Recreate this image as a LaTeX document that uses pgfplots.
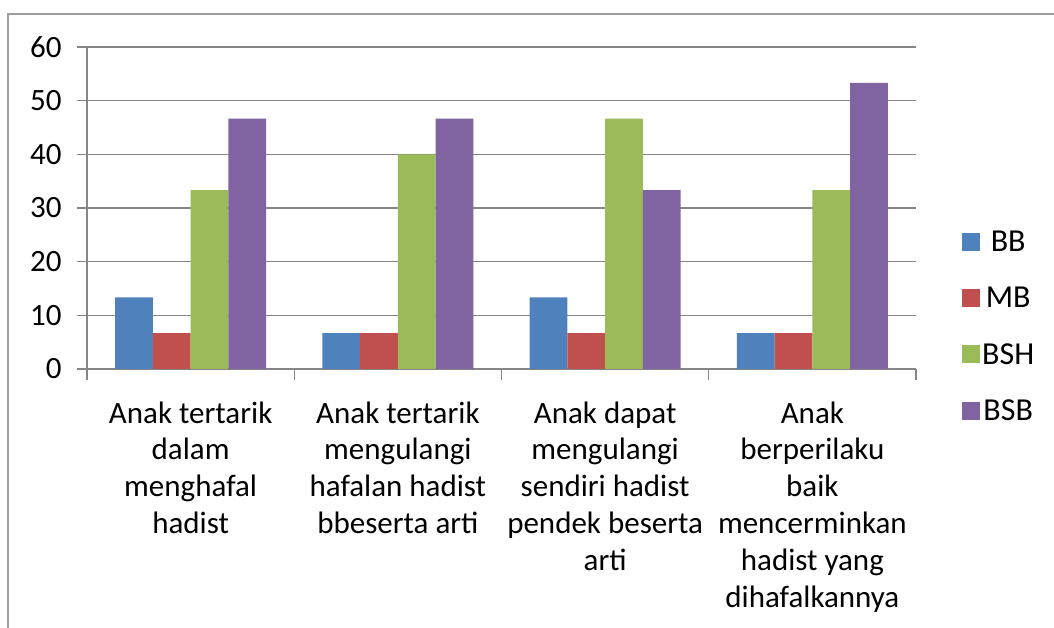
\documentclass[border=0pt]{standalone}
\usepackage{fontspec}
\setmainfont{Carlito}
\usepackage{pgfplots}
\usetikzlibrary{calc}
\pgfplotsset{compat=1.18}
\definecolor{cBB}{HTML}{4F81BD}
\definecolor{cMB}{HTML}{C0504D}
\definecolor{cBSH}{HTML}{9BBB59}
\definecolor{cBSB}{HTML}{8064A2}
\definecolor{gridc}{HTML}{868686}
\begin{document}
\begin{tikzpicture}[x=1pt,y=1pt]
\begin{axis}[
  name=ax,
  scale only axis, width=829pt, height=322pt,
  xmin=-0.5, xmax=3.5, ymin=0, ymax=60,
  ybar=0pt, bar width=37.7pt,
  axis x line*=bottom, axis y line*=left,
  axis line style={gridc, line width=1.2pt},
  xtick={0,1,2,3},
  xticklabels={{Anak tertarik\\dalam\\menghafal\\hadist},
    {Anak tertarik\\mengulangi\\hafalan hadist\\bbeserta arti},
    {Anak dapat\\mengulangi\\sendiri hadist\\pendek beserta\\arti},
    {Anak\\berperilaku\\baik\\mencerminkan\\hadist yang\\dihafalkannya}},
  major x tick style={draw=none},
  minor xtick={-0.5,0.5,1.5,2.5,3.5},
  minor x tick style={gridc, line width=1.2pt},
  minor tick length=11pt,
  tick align=outside,
  ytick={0,10,...,60},
  major tick length=10pt,
  y tick style={gridc, line width=1.2pt},
  ymajorgrids, grid style={gridc, line width=1.2pt},
  /pgf/number format/assume math mode=true,
  yticklabel style={font=\fontsize{31}{34}\selectfont, xshift=-12pt},
  xticklabel style={font=\fontsize{31}{36.9}\selectfont, align=center, yshift=-19pt},
  legend style={at={(1.0555,0.132)}, anchor=west, draw=none, fill=none,
    font=\fontsize{32}{34}\selectfont, row sep=30pt, inner sep=0pt,
    /tikz/every even column/.append style={column sep=7pt}},
  legend image code/.code={\fill[#1] (0pt,-9pt) rectangle (18pt,9pt);},
  clip=false,
]
\addplot[fill=cBB, draw=none] coordinates {(0,13.33) (1,6.67) (2,13.33) (3,6.67)};
\addplot[fill=cMB, draw=none] coordinates {(0,6.67) (1,6.67) (2,6.67) (3,6.67)};
\addplot[fill=cBSH, draw=none] coordinates {(0,33.33) (1,40) (2,46.67) (3,33.33)};
\addplot[fill=cBSB, draw=none] coordinates {(0,46.67) (1,46.67) (2,33.33) (3,53.33)};
\legend{BB,MB,BSH,BSB}
\end{axis}
\pgfresetboundingbox
\useasboundingbox ($(ax.south west)+(-87,-259)$) rectangle ++(1054,628);
\draw[gridc!80, line width=1.5pt] ($(ax.south west)+(-79,-270)$) -- ++(0,625) -- ++(1060,0);
\end{tikzpicture}
\end{document}
